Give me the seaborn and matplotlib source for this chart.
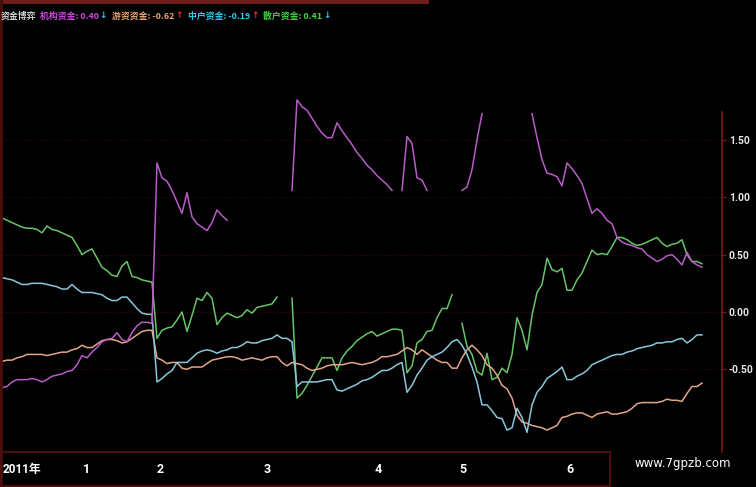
import numpy as np
import pandas as pd
import matplotlib.pyplot as plt
import seaborn as sns
from matplotlib.lines import Line2D
from matplotlib.patches import Rectangle

nan = np.nan

# one point per trading day on the chart
days = list(range(141))

# 机构资金 (magenta)
jigou = [-0.66, -0.65, -0.61, -0.59, -0.59, -0.59, -0.58, -0.59, -0.61, -0.59,
         -0.56, -0.55, -0.54, -0.52, -0.51, -0.46, -0.38, -0.40, -0.35, -0.31,
         -0.26, -0.24, -0.23, -0.18, -0.24, -0.26, -0.18, -0.12, -0.09, -0.09,
         -0.10, 1.30, 1.17, 1.14, 1.06, 0.96, 0.86, 1.04, 0.83, 0.77,
         0.74, 0.71, 0.78, 0.89, 0.84, 0.80, nan, nan, nan, nan,
         nan, nan, nan, nan, nan, nan, nan, nan, 1.06, 1.85,
         1.79, 1.76, 1.69, 1.62, 1.56, 1.52, 1.52, 1.65, 1.58, 1.52,
         1.46, 1.39, 1.34, 1.28, 1.24, 1.19, 1.15, 1.11, 1.06, nan,
         1.06, 1.53, 1.47, 1.17, 1.15, 1.06, nan, nan, nan, nan,
         nan, nan, 1.06, 1.09, 1.24, 1.50, 1.73, nan, nan, nan,
         nan, nan, nan, nan, nan, nan, 1.73, 1.52, 1.33, 1.21,
         1.20, 1.18, 1.10, 1.30, 1.25, 1.19, 1.12, 0.99, 0.86, 0.90,
         0.86, 0.80, 0.77, 0.65, 0.61, 0.59, 0.58, 0.56, 0.55, 0.50,
         0.47, 0.44, 0.46, 0.49, 0.50, 0.46, 0.41, 0.52, 0.44, 0.41,
         0.39]

# 游资资金 (salmon)
youzi = [-0.43, -0.42, -0.42, -0.40, -0.39, -0.37, -0.37, -0.37, -0.37, -0.38,
         -0.37, -0.36, -0.35, -0.35, -0.33, -0.32, -0.29, -0.31, -0.31, -0.28,
         -0.25, -0.24, -0.24, -0.25, -0.27, -0.26, -0.23, -0.20, -0.17, -0.16,
         -0.16, -0.40, -0.42, -0.45, -0.44, -0.44, -0.49, -0.50, -0.48, -0.48,
         -0.48, -0.45, -0.42, -0.41, -0.40, -0.39, -0.39, -0.40, -0.42, -0.41,
         -0.40, -0.41, -0.42, -0.40, -0.39, -0.39, -0.44, -0.47, -0.44, -0.45,
         -0.46, -0.49, -0.51, -0.50, -0.49, -0.47, -0.46, -0.46, -0.46, -0.45,
         -0.44, -0.45, -0.46, -0.45, -0.44, -0.42, -0.39, -0.39, -0.38, -0.37,
         -0.34, -0.31, -0.33, -0.37, -0.33, -0.36, -0.39, -0.42, -0.44, -0.44,
         -0.49, -0.49, -0.40, -0.33, -0.29, -0.33, -0.38, -0.46, -0.49, -0.55,
         -0.64, -0.67, -0.75, -0.90, -0.96, -0.97, -0.99, -1.00, -1.01, -1.03,
         -1.01, -0.99, -0.92, -0.91, -0.89, -0.88, -0.88, -0.90, -0.92, -0.89,
         -0.88, -0.87, -0.89, -0.89, -0.88, -0.87, -0.84, -0.80, -0.79, -0.79,
         -0.79, -0.79, -0.78, -0.76, -0.77, -0.77, -0.78, -0.71, -0.65, -0.65,
         -0.62]

# 中户资金 (cyan)
zhonghu = [0.30, 0.29, 0.28, 0.26, 0.24, 0.24, 0.25, 0.25, 0.25, 0.24,
           0.23, 0.22, 0.20, 0.20, 0.24, 0.20, 0.17, 0.17, 0.17, 0.16,
           0.15, 0.12, 0.10, 0.10, 0.13, 0.13, 0.08, 0.03, -0.01, -0.02,
           -0.02, -0.61, -0.58, -0.54, -0.51, -0.44, -0.44, -0.44, -0.40, -0.36,
           -0.34, -0.33, -0.34, -0.36, -0.34, -0.33, -0.31, -0.31, -0.29, -0.26,
           -0.27, -0.27, -0.25, -0.24, -0.23, -0.20, -0.23, -0.23, -0.26, -0.65,
           -0.61, -0.61, -0.61, -0.61, -0.60, -0.59, -0.59, -0.68, -0.69, -0.67,
           -0.65, -0.63, -0.60, -0.59, -0.57, -0.54, -0.51, -0.51, -0.49, -0.46,
           -0.44, -0.70, -0.64, -0.55, -0.49, -0.42, -0.39, -0.37, -0.35, -0.31,
           -0.26, -0.24, -0.29, -0.37, -0.48, -0.61, -0.81, -0.81, -0.86, -0.92,
           -0.93, -1.03, -1.01, -0.84, -0.92, -1.05, -0.81, -0.70, -0.65, -0.58,
           -0.55, -0.52, -0.48, -0.59, -0.59, -0.56, -0.54, -0.51, -0.46, -0.44,
           -0.42, -0.40, -0.38, -0.37, -0.37, -0.35, -0.34, -0.32, -0.31, -0.30,
           -0.29, -0.27, -0.27, -0.26, -0.26, -0.24, -0.23, -0.27, -0.24, -0.20,
           -0.20]

# 散户资金 (green)
sanhu = [0.82, 0.80, 0.78, 0.76, 0.74, 0.73, 0.73, 0.72, 0.69, 0.75,
         0.72, 0.71, 0.69, 0.67, 0.65, 0.58, 0.50, 0.53, 0.55, 0.47,
         0.39, 0.36, 0.32, 0.31, 0.40, 0.44, 0.31, 0.30, 0.28, 0.27,
         0.26, -0.23, -0.16, -0.14, -0.13, -0.07, 0.00, -0.17, -0.03, 0.12,
         0.10, 0.17, 0.12, -0.11, -0.05, -0.01, -0.03, -0.05, -0.03, 0.02,
         -0.01, 0.04, 0.05, 0.06, 0.07, 0.13, nan, nan, 0.12, -0.75,
         -0.71, -0.64, -0.56, -0.48, -0.40, -0.40, -0.40, -0.51, -0.40, -0.34,
         -0.30, -0.25, -0.22, -0.19, -0.17, -0.21, -0.19, -0.17, -0.15, -0.15,
         -0.16, -0.53, -0.47, -0.27, -0.24, -0.17, -0.16, -0.05, 0.03, 0.03,
         0.15, nan, -0.10, -0.30, -0.37, -0.52, -0.55, -0.36, -0.59, -0.57,
         -0.49, -0.53, -0.37, -0.05, -0.16, -0.33, -0.03, 0.17, 0.24, 0.47,
         0.37, 0.35, 0.38, 0.19, 0.19, 0.28, 0.34, 0.44, 0.54, 0.50,
         0.51, 0.50, 0.57, 0.65, 0.65, 0.63, 0.60, 0.58, 0.59, 0.61,
         0.63, 0.65, 0.60, 0.57, 0.59, 0.60, 0.63, 0.50, 0.44, 0.44,
         0.42]

names = ['散户资金', '游资资金', '中户资金', '机构资金']
series = [sanhu, youzi, zhonghu, jigou]
colors = ['#68c468', '#e2a58a', '#88c8da', '#b85cc8']

month_pos = [17, 31.6, 53, 75.2, 92.2, 113.6]
month_labels = ['1', '2', '3', '4', '5', '6']
y_ticks = [1.5, 1.0, 0.5, 0.0, -0.5]

# long table, split at the blank stretches so the lines break there
frames = []
for name, vals in zip(names, series):
    s = pd.Series(vals, dtype=float)
    gap = s.isna().cumsum()
    df = pd.DataFrame({'day': days, 'value': s, 'series': name,
                       'seg': name + gap.astype(str)})
    frames.append(df.dropna())
data = pd.concat(frames, ignore_index=True)

cjk = ['Noto Sans CJK SC', 'DejaVu Sans']
plt.rcParams['font.family'] = cjk

W, H = 756, 487
fig = plt.figure(figsize=(W / 100, H / 100), dpi=100, facecolor='black')
ax = fig.add_axes([0, (H - 452) / H, 722 / W, 422 / H])
ax.set_facecolor('black')

sns.lineplot(data=data, x='day', y='value', hue='series', units='seg',
             estimator=None, palette=dict(zip(names, colors)),
             hue_order=names, legend=False, linewidth=1.1, ax=ax)

ax.set_xlim(-0.4, 144)
ax.set_ylim(-1.221, 2.459)
ax.set_xlabel('')
ax.set_ylabel('')

# right value axis
ax.yaxis.tick_right()
ax.set_yticks(y_ticks, ['%.2f' % v for v in y_ticks])
ax.tick_params(axis='y', colors='#7a1818', length=3, width=1, pad=2,
               labelcolor='#e6e6e6', labelsize=7.5)
for lab in ax.get_yticklabels():
    lab.set_family(['Roboto', 'DejaVu Sans'])
    lab.set_fontweight('bold')
ax.grid(axis='y', color='#3a0c0c', linestyle=(0, (1, 2)), linewidth=0.8)

# month axis
ax.set_xticks(month_pos, month_labels)
ax.tick_params(axis='x', colors='#4a0e0e', length=0, pad=8,
               labelcolor='white', labelsize=9)
for lab in ax.get_xticklabels():
    lab.set_family(['Roboto', 'DejaVu Sans'])
    lab.set_fontweight('bold')

for side in ['top', 'bottom']:
    ax.spines[side].set_visible(False)
ax.spines['left'].set_color('#4a0e0e')
ax.spines['left'].set_linewidth(2)
ax.spines['right'].set_color('#7a1818')
ax.spines['right'].set_linewidth(1.2)
ax.spines['right'].set_bounds(-1.221, 1.74)

# frame of the date band and the top rule
fig.add_artist(Rectangle((0.5 / W, 1 / H), 609 / W, 34 / H, transform=fig.transFigure,
                         fill=False, edgecolor='#4a0e0e', linewidth=1.5))
fig.add_artist(Line2D([0, 427 / W], [1 - 1.5 / H, 1 - 1.5 / H], transform=fig.transFigure,
                      color='#6e1c1c', linewidth=3))
fig.add_artist(Line2D([1 / W, 1 / W], [0, 1], transform=fig.transFigure,
                      color='#4a0e0e', linewidth=2))

fig.text(3 / W, 1 - 469 / H, '2011年', color='white', fontsize=8.5,
         fontweight='bold', family=['Roboto', 'Noto Sans CJK SC'], ha='left', va='center')
fig.text(683 / W, 1 - 463 / H, 'www.7gpzb.com', color='white', fontsize=8.5,
         family=['DejaVu Sans'], ha='center', va='center')

# header line, laid out piece after piece
hy = 1 - 16 / H
head = [
    ('资金博弈', '#d4d4d4', 3),
    ('机构资金: 0.40', '#d046e0', 1),
    ('↓', '#3ec4e6', 5),
    ('游资资金: -0.62', '#e8a470', 1),
    ('↑', '#e03434', 5),
    ('中户资金: -0.19', '#34c6ea', 1),
    ('↑', '#e03434', 5),
    ('散户资金: 0.41', '#3ed43e', 1),
    ('↓', '#3ec4e6', 0),
]
renderer = fig.canvas.get_renderer()
px = 1
for txt, col, gap in head:
    fam = ['DejaVu Sans'] if txt in ('↑', '↓') else cjk
    t = fig.text(px / W, hy, txt, color=col, fontsize=6.4, fontweight='bold',
                 family=fam, ha='left', va='center')
    px = t.get_window_extent(renderer).x1 + gap

fig.savefig('out.png', dpi=100, facecolor='black')
